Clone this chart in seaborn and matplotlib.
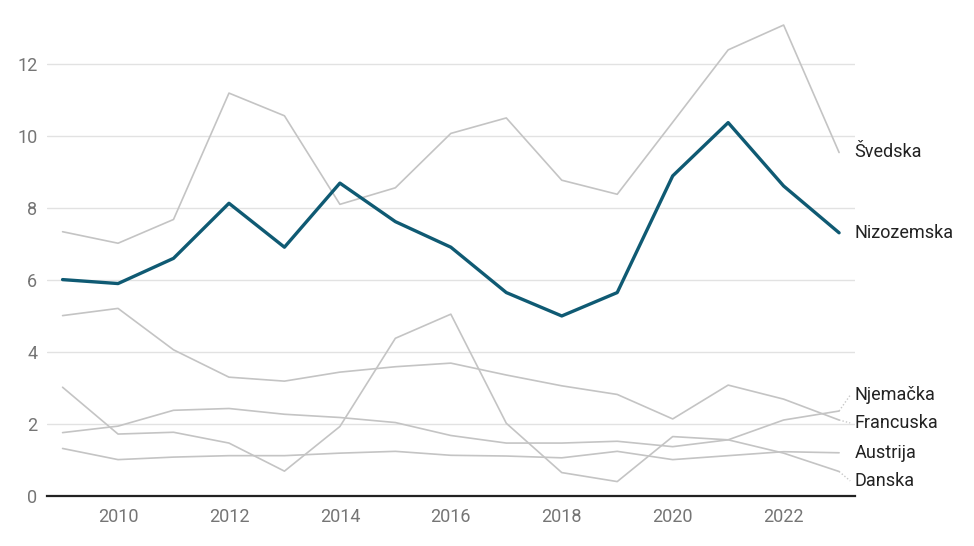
import pandas as pd
import matplotlib
matplotlib.use("Agg")
import matplotlib.pyplot as plt
import seaborn as sns

years = list(range(2009, 2024))

svedska = [7.34, 7.02, 7.68, 11.19, 10.56, 8.10, 8.56, 10.07, 10.50, 8.77, 8.38, 10.38, 12.39, 13.08, 9.54]
nizozemska = [6.01, 5.90, 6.60, 8.13, 6.91, 8.69, 7.62, 6.91, 5.65, 5.00, 5.65, 8.89, 10.37, 8.61, 7.31]
njemacka = [1.76, 1.94, 2.38, 2.43, 2.27, 2.18, 2.04, 1.68, 1.47, 1.47, 1.52, 1.37, 1.56, 2.11, 2.36]
francuska = [5.01, 5.21, 4.06, 3.30, 3.19, 3.44, 3.59, 3.69, 3.36, 3.06, 2.82, 2.14, 3.08, 2.69, 2.11]
austrija = [1.32, 1.01, 1.08, 1.12, 1.12, 1.19, 1.24, 1.13, 1.11, 1.06, 1.24, 1.01, 1.12, 1.23, 1.20]
danska = [3.02, 1.72, 1.77, 1.47, 0.69, 1.93, 4.38, 5.05, 2.02, 0.65, 0.40, 1.65, 1.56, 1.19, 0.68]

series = {
    "Švedska": svedska,
    "Njemačka": njemacka,
    "Francuska": francuska,
    "Austrija": austrija,
    "Danska": danska,
    "Nizozemska": nizozemska,
}
# label y positions (in data units) where the names sit on the right
label_y = {
    "Švedska": 9.55,
    "Nizozemska": 7.31,
    "Njemačka": 2.80,
    "Francuska": 2.03,
    "Austrija": 1.19,
    "Danska": 0.42,
}

sns.set_theme(style="white")
plt.rcParams["font.family"] = ["Roboto", "DejaVu Sans"]

fig = plt.figure(figsize=(9.74, 5.46), dpi=100)
ax = fig.add_axes([0.0483, 0.0916, 0.8297, 0.881])

grey = "#c4c4c4"
teal = "#0f5a73"

for name, vals in series.items():
    df = pd.DataFrame({"year": years, "value": vals})
    if name == "Nizozemska":
        sns.lineplot(data=df, x="year", y="value", color=teal, linewidth=2.4, ax=ax, zorder=5)
    else:
        sns.lineplot(data=df, x="year", y="value", color=grey, linewidth=1.2, ax=ax, zorder=3)
    last = vals[-1]
    ly = label_y[name]
    if abs(ly - last) > 0.05:
        ax.plot([years[-1], years[-1] + 0.2], [last, ly], color="#c8c8c8",
                linewidth=1, linestyle=(0, (1, 1.5)), clip_on=False)
    ax.text(years[-1] + 0.28, ly, name, va="center", ha="left",
            fontsize=13, color="#222222", clip_on=False)

ax.set_xlim(2008.72, 2023.29)
ax.set_ylim(0, 13.36)
ax.set_yticks([0, 2, 4, 6, 8, 10, 12])
ax.set_xticks([2010, 2012, 2014, 2016, 2018, 2020, 2022])
ax.grid(axis="y", color="#e2e2e2", linewidth=1)
ax.set_axisbelow(True)
for s in ["top", "right", "left"]:
    ax.spines[s].set_visible(False)
ax.spines["bottom"].set_color("#222222")
ax.spines["bottom"].set_linewidth(1.6)
ax.tick_params(axis="both", length=0, labelsize=13, labelcolor="#757575")
ax.tick_params(axis="x", pad=9)
ax.tick_params(axis="y", pad=7)
ax.set_xlabel("")
ax.set_ylabel("")

fig.savefig("out.png", dpi=100)
